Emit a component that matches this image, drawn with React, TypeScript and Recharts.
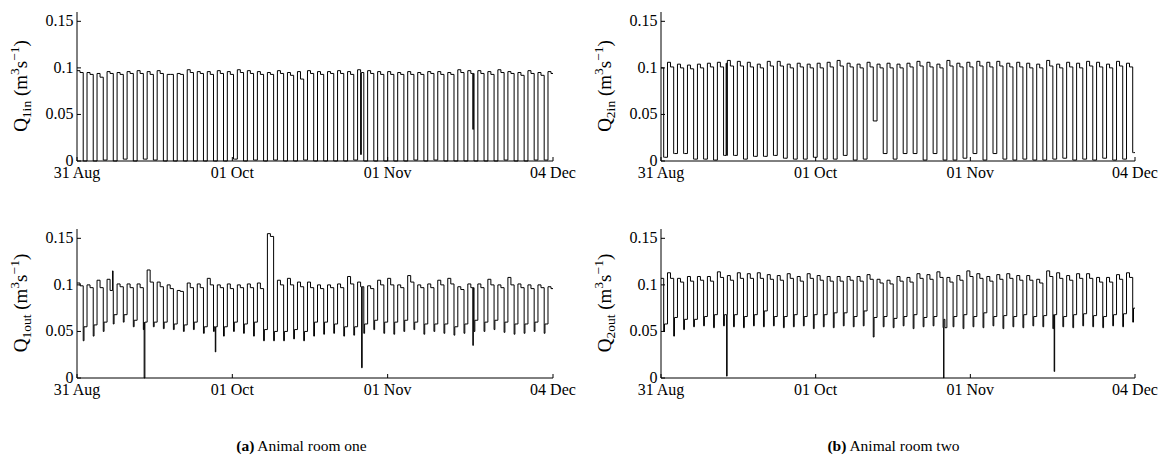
import { LineChart, Line, XAxis, YAxis } from "recharts";

// x axis: days since 31 Aug
const tickDays = [0, 31, 62, 95];
const tickDates = ["31 Aug", "01 Oct", "01 Nov", "04 Dec"];
const yTicks = [0, 0.05, 0.1, 0.15];
const yTickLabels = ["0", "0.05", "0.1", "0.15"];

// ventilation cycles, one entry per 2-day cycle
const CYCLE_DAYS = 2;
const roomOneStart = 0;
const roomTwoStart = -0.7;

const q1inPeak = [
  0.097, 0.095, 0.094, 0.096, 0.095, 0.096, 0.097, 0.096, 0.097, 0.093, 0.094, 0.098,
  0.096, 0.096, 0.097, 0.096, 0.098, 0.097, 0.096, 0.095, 0.097, 0.095, 0.096, 0.097,
  0.096, 0.096, 0.097, 0.096, 0.098, 0.097, 0.096, 0.096, 0.095, 0.096, 0.095, 0.096,
  0.096, 0.095, 0.098, 0.097, 0.097, 0.096, 0.098, 0.096, 0.095, 0.097, 0.095, 0.096,
];
const q1inStep = [
  0.095, 0.093, 0.090, 0.094, 0.093, 0.094, 0.094, 0.093, 0.094, 0.093, 0.093, 0.095,
  0.094, 0.093, 0.094, 0.093, 0.095, 0.094, 0.093, 0.093, 0.094, 0.092, 0.088, 0.094,
  0.093, 0.094, 0.094, 0.093, 0.095, 0.094, 0.093, 0.093, 0.093, 0.093, 0.093, 0.094,
  0.093, 0.093, 0.095, 0.094, 0.094, 0.093, 0.095, 0.094, 0.092, 0.094, 0.092, 0.094,
];
const q1inLow = [
  0, 0, 0.001, 0, 0.002, 0, 0.002, 0.001, 0, 0, 0, 0,
  0, 0, 0, 0.002, 0, 0.001, 0, 0.001, 0, 0, 0.001, 0,
  0, 0, 0, 0.001, 0, 0, 0, 0, 0, 0.001, 0, 0.001,
  0, 0, 0, 0, 0, 0, 0.001, 0, 0, 0.001, 0.001, 0,
];
const q1inEvents: [number, number, number][] = [
  [56.6, 0.007, 0.15],
  [79.0, 0.034, 0.1],
];

const q2inPeak = [
  0.103, 0.106, 0.104, 0.103, 0.104, 0.105, 0.106, 0.108, 0.107, 0.106, 0.104, 0.107,
  0.107, 0.104, 0.105, 0.104, 0.105, 0.106, 0.108, 0.105, 0.104, 0.106, 0.104, 0.105,
  0.104, 0.105, 0.107, 0.106, 0.104, 0.108, 0.105, 0.106, 0.107, 0.106, 0.107, 0.105,
  0.106, 0.105, 0.104, 0.108, 0.104, 0.106, 0.105, 0.107, 0.106, 0.104, 0.107, 0.105,
];
const q2inStep = [
  0.100, 0.101, 0.100, 0.099, 0.100, 0.101, 0.101, 0.102, 0.102, 0.101, 0.100, 0.102,
  0.102, 0.100, 0.101, 0.100, 0.100, 0.101, 0.102, 0.101, 0.100, 0.101, 0.100, 0.100,
  0.100, 0.101, 0.102, 0.101, 0.100, 0.102, 0.101, 0.101, 0.102, 0.101, 0.102, 0.101,
  0.101, 0.100, 0.100, 0.102, 0.100, 0.101, 0.100, 0.102, 0.101, 0.100, 0.102, 0.101,
];
const q2inLow = [
  0.004, 0.008, 0.008, 0.002, 0.002, 0.001, 0.006, 0.006, 0.002, 0.005, 0.005, 0.006,
  0.003, 0.002, 0.002, 0.004, 0.002, 0.002, 0.006, 0.001, 0.002, 0.043, 0.008, 0.002,
  0.008, 0.008, 0.001, 0.008, 0.001, 0.001, 0.003, 0.008, 0.001, 0.008, 0.002, 0.001,
  0.002, 0.001, 0.001, 0.002, 0.003, 0.001, 0.002, 0.001, 0.003, 0.001, 0.002, 0.009,
];
const q2inEvents: [number, number, number][] = [[13.05, 0.105, 0.12]];

const q1outPeak = [
  0.102, 0.100, 0.105, 0.106, 0.101, 0.101, 0.101, 0.116, 0.103, 0.100, 0.094, 0.102,
  0.101, 0.107, 0.100, 0.101, 0.100, 0.101, 0.102, 0.155, 0.105, 0.107, 0.103, 0.103,
  0.100, 0.100, 0.101, 0.109, 0.103, 0.099, 0.105, 0.107, 0.100, 0.110, 0.100, 0.101,
  0.105, 0.107, 0.098, 0.101, 0.101, 0.106, 0.100, 0.108, 0.101, 0.100, 0.100, 0.098,
];
const q1outStep = [
  0.099, 0.097, 0.097, 0.094, 0.098, 0.097, 0.097, 0.103, 0.098, 0.096, 0.093, 0.097,
  0.097, 0.100, 0.097, 0.096, 0.097, 0.097, 0.096, 0.152, 0.100, 0.100, 0.098, 0.097,
  0.096, 0.097, 0.097, 0.101, 0.098, 0.096, 0.100, 0.100, 0.097, 0.103, 0.097, 0.097,
  0.100, 0.101, 0.095, 0.097, 0.097, 0.100, 0.097, 0.100, 0.097, 0.096, 0.097, 0.096,
];
const q1outDip = [
  0.040, 0.045, 0.050, 0.058, 0.060, 0.055, 0.052, 0.055, 0.053, 0.052, 0.050, 0.052,
  0.048, 0.050, 0.045, 0.050, 0.048, 0.045, 0.040, 0.040, 0.040, 0.042, 0.040, 0.045,
  0.047, 0.048, 0.045, 0.046, 0.048, 0.052, 0.048, 0.047, 0.050, 0.052, 0.047, 0.050,
  0.048, 0.046, 0.048, 0.050, 0.050, 0.052, 0.049, 0.047, 0.048, 0.050, 0.048, 0.052,
];
const q1outLow = [
  0.055, 0.057, 0.060, 0.068, 0.068, 0.062, 0.060, 0.060, 0.060, 0.058, 0.057, 0.060,
  0.055, 0.055, 0.055, 0.060, 0.058, 0.060, 0.052, 0.050, 0.050, 0.052, 0.050, 0.060,
  0.060, 0.058, 0.055, 0.055, 0.058, 0.062, 0.060, 0.060, 0.062, 0.060, 0.058, 0.058,
  0.058, 0.055, 0.058, 0.062, 0.060, 0.062, 0.060, 0.058, 0.058, 0.060, 0.058, 0.060,
];
const q1outEvents: [number, number, number][] = [
  [7.1, 0.115, 0.1],
  [13.4, 0, 0.15],
  [27.6, 0.028, 0.1],
  [56.8, 0.011, 0.12],
  [79.0, 0.035, 0.1],
];

const q2outPeak = [
  0.112, 0.113, 0.107, 0.109, 0.109, 0.109, 0.114, 0.110, 0.113, 0.112, 0.113, 0.111,
  0.110, 0.112, 0.109, 0.112, 0.110, 0.109, 0.109, 0.109, 0.109, 0.111, 0.106, 0.105,
  0.109, 0.108, 0.112, 0.111, 0.114, 0.108, 0.110, 0.115, 0.112, 0.109, 0.111, 0.112,
  0.110, 0.110, 0.106, 0.115, 0.113, 0.110, 0.112, 0.112, 0.108, 0.108, 0.111, 0.113,
];
const q2outStep = [
  0.107, 0.107, 0.103, 0.104, 0.105, 0.104, 0.108, 0.105, 0.107, 0.107, 0.107, 0.106,
  0.105, 0.107, 0.104, 0.107, 0.105, 0.104, 0.104, 0.105, 0.104, 0.106, 0.102, 0.101,
  0.104, 0.103, 0.107, 0.106, 0.108, 0.103, 0.105, 0.109, 0.107, 0.104, 0.106, 0.107,
  0.105, 0.105, 0.102, 0.109, 0.107, 0.105, 0.107, 0.107, 0.103, 0.103, 0.106, 0.108,
];
const q2outDip = [
  0.050, 0.045, 0.052, 0.055, 0.056, 0.054, 0.056, 0.055, 0.054, 0.056, 0.055, 0.056,
  0.054, 0.055, 0.056, 0.053, 0.055, 0.054, 0.056, 0.055, 0.056, 0.044, 0.055, 0.054,
  0.056, 0.053, 0.055, 0.056, 0.054, 0.055, 0.053, 0.055, 0.054, 0.056, 0.053, 0.055,
  0.054, 0.056, 0.055, 0.053, 0.055, 0.054, 0.056, 0.055, 0.054, 0.056, 0.055, 0.060,
];
const q2outLow = [
  0.058, 0.065, 0.063, 0.063, 0.066, 0.068, 0.068, 0.068, 0.066, 0.068, 0.072, 0.066,
  0.066, 0.068, 0.066, 0.068, 0.068, 0.070, 0.070, 0.066, 0.072, 0.065, 0.066, 0.064,
  0.066, 0.068, 0.065, 0.066, 0.063, 0.066, 0.068, 0.066, 0.070, 0.066, 0.067, 0.066,
  0.068, 0.066, 0.067, 0.068, 0.066, 0.068, 0.069, 0.067, 0.066, 0.068, 0.069, 0.075,
];
const q2outEvents: [number, number, number][] = [
  [13.15, 0.002, 0.1],
  [56.65, 0, 0.25],
  [78.8, 0.007, 0.1],
];

const DAY_END = 95;
const FONT = "'Liberation Serif', 'Times New Roman', serif";

type Pt = { t: number; v: number };

function levelAt(pts: Pt[], t: number) {
  let v = pts[0].v;
  for (const p of pts) {
    if (p.t <= t) v = p.v;
    else break;
  }
  return v;
}

// turn the per-cycle readings into step points
function buildSeries(
  start: number,
  peak: number[],
  step: number[],
  dip: number[],
  low: number[],
  events: [number, number, number][]
): Pt[] {
  let pts: Pt[] = [];
  peak.forEach((p, i) => {
    const t0 = start + i * CYCLE_DAYS;
    pts.push({ t: t0, v: p });
    pts.push({ t: t0 + 0.3 * CYCLE_DAYS, v: step[i] });
    pts.push({ t: t0 + 0.62 * CYCLE_DAYS, v: dip[i] });
    pts.push({ t: t0 + 0.7 * CYCLE_DAYS, v: low[i] });
  });
  const extra: Pt[] = [];
  events.forEach(([day, value, width]) => {
    const back = levelAt(pts, day);
    extra.push({ t: day, v: value }, { t: day + width, v: back });
  });
  pts = pts.concat(extra).sort((a, b) => a.t - b.t);
  const first = levelAt(pts, 0);
  const last = levelAt(pts, DAY_END);
  return [
    { t: 0, v: first },
    ...pts.filter((p) => p.t > 0 && p.t < DAY_END),
    { t: DAY_END, v: last },
  ];
}

const q1in = buildSeries(roomOneStart, q1inPeak, q1inStep, q1inLow, q1inLow, q1inEvents);
const q2in = buildSeries(roomTwoStart, q2inPeak, q2inStep, q2inLow, q2inLow, q2inEvents);
const q1out = buildSeries(roomOneStart, q1outPeak, q1outStep, q1outDip, q1outLow, q1outEvents);
const q2out = buildSeries(roomTwoStart, q2outPeak, q2outStep, q2outDip, q2outLow, q2outEvents);

function XTick(props: any) {
  const { x, y, payload } = props;
  const i = tickDays.indexOf(payload.value);
  return (
    <g>
      <line x1={x} x2={x} y1={y} y2={y - 4} stroke="#000" strokeWidth={1} />
      <text x={x} y={y + 17} textAnchor="middle" fontFamily={FONT} fontSize={16} fill="#000">
        {tickDates[i]}
      </text>
    </g>
  );
}

function YTick(props: any) {
  const { x, y, payload } = props;
  const i = yTicks.indexOf(payload.value);
  return (
    <g>
      <line x1={x} x2={x + 4} y1={y} y2={y} stroke="#000" strokeWidth={1} />
      <text x={x - 3.5} y={y + 5} textAnchor="end" fontFamily={FONT} fontSize={16} fill="#000">
        {yTickLabels[i]}
      </text>
    </g>
  );
}

type PanelProps = {
  data: Pt[];
  left: number;
  top: number;
  width: number;
  right: number;
  sub: string;
};

function Panel({ data, left, top, width, right, sub }: PanelProps) {
  return (
    <div style={{ position: "absolute", left, top, width, height: 195 }}>
      <LineChart width={width} height={195} data={data} margin={{ top: 12, right, bottom: 0, left: 0 }}>
        <XAxis
          dataKey="t"
          type="number"
          domain={[0, DAY_END]}
          ticks={tickDays}
          interval={0}
          tick={(p: any) => <XTick {...p} />}
          tickSize={0}
          tickMargin={0}
          tickLine={false}
          axisLine={{ stroke: "#000", strokeWidth: 1 }}
          height={34}
        />
        <YAxis
          type="number"
          domain={[0, 0.16]}
          ticks={yTicks}
          interval={0}
          tick={(p: any) => <YTick {...p} />}
          tickSize={0}
          tickMargin={0}
          tickLine={false}
          axisLine={{ stroke: "#000", strokeWidth: 1 }}
          width={77}
        />
        <Line
          type="stepAfter"
          dataKey="v"
          stroke="#000"
          strokeWidth={1}
          dot={false}
          isAnimationActive={false}
        />
      </LineChart>
      <svg width={40} height={195} style={{ position: "absolute", left: 0, top: 0 }}>
        <text
          transform="translate(27,86) rotate(-90)"
          textAnchor="middle"
          fontFamily={FONT}
          fontSize={19}
          fill="#000"
        >
          Q
          <tspan fontSize={13.5} dy={4}>{sub}</tspan>
          <tspan dy={-4}> (m</tspan>
          <tspan fontSize={13.5} dy={-8}>3</tspan>
          <tspan dy={8}>s</tspan>
          <tspan fontSize={13.5} dy={-8}>−1</tspan>
          <tspan dy={8}>)</tspan>
        </text>
      </svg>
    </div>
  );
}

export default function App() {
  return (
    <div style={{ position: "relative", width: 1165, height: 468, background: "#fff", overflow: "hidden" }}>
      <style>{"body{margin:0}"}</style>
      <Panel data={q1in} left={0} top={0} width={600} right={47} sub="1in" />
      <Panel data={q2in} left={584} top={0} width={581} right={30} sub="2in" />
      <Panel data={q1out} left={0} top={217} width={600} right={47} sub="1out" />
      <Panel data={q2out} left={584} top={217} width={581} right={30} sub="2out" />
      <svg width={1165} height={468} style={{ position: "absolute", left: 0, top: 0, pointerEvents: "none" }}>
        <text x={301.5} y={451} textAnchor="middle" fontFamily={FONT} fontSize={15.5} fill="#000">
          <tspan fontWeight="bold">(a)</tspan> Animal room one
        </text>
        <text x={893.5} y={451} textAnchor="middle" fontFamily={FONT} fontSize={15.5} fill="#000">
          <tspan fontWeight="bold">(b)</tspan> Animal room two
        </text>
      </svg>
    </div>
  );
}
